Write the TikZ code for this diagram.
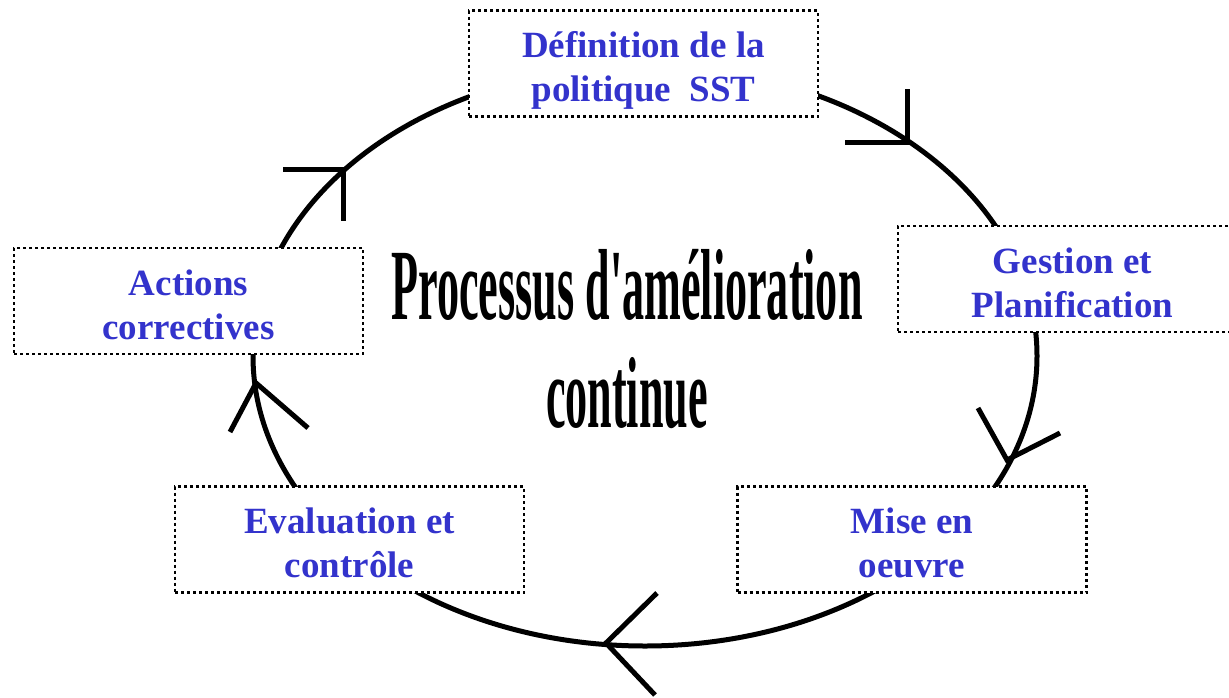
\documentclass[tikz,border=0pt]{standalone}
\usepackage{fontspec}
\setmainfont{Liberation Serif}
\usepackage{graphicx}
\definecolor{lblue}{RGB}{51,51,204}
\begin{document}
\begin{tikzpicture}[x=1pt,y=-1pt,
  stepbox/.style={draw=black, fill=white, line width=2.7pt, dash pattern=on 3pt off 3pt,
    minimum width=349pt, minimum height=106pt, inner sep=0pt,
    text height=38pt, text depth=50pt,
    font=\fontsize{37}{44}\bfseries\selectfont, text=lblue},
  cyclepath/.style={line width=5pt},
  tiparms/.style={line width=5pt, line join=miter}]
\useasboundingbox (0,0) rectangle (1229,697);
\clip (0,0) rectangle (1229,697);
\fill[white] (0,0) rectangle (1229,697);
% cycle
\draw[cyclepath] (645,356) ellipse [x radius=392pt, y radius=290pt];
% boxes
\node[stepbox] (b1) at (643.5,63.5) {\begin{tabular}[t]{@{}c@{}}Définition de la\\politique~ SST\end{tabular}};
\node[stepbox] (b2) at (1072.5,279) {\begin{tabular}[t]{@{}c@{}}Gestion et\\Planification\end{tabular}};
\node[stepbox] (b3) at (912,539.5) {\begin{tabular}[t]{@{}c@{}}Mise en\\oeuvre\end{tabular}};
\node[stepbox] (b4) at (349.5,539.5) {\begin{tabular}[t]{@{}c@{}}Evaluation et\\contrôle\end{tabular}};
\node[stepbox] (b5) at (188.5,301) {\begin{tabular}[t]{@{}c@{}}Actions\\correctives\end{tabular}};
% title
\node[anchor=base, inner sep=0pt] (title) at (627,319)
  {\fontsize{101}{108}\bfseries\selectfont\scalebox{0.437}[1]{\begin{tabular}[t]{@{}c@{}}Processus d\textquotesingle amélioration\\continue\end{tabular}}};
% arrow heads
\coordinate (t1) at (907,142); \coordinate (t1a) at (845,142); \coordinate (t1b) at (907,89);
\coordinate (t2) at (1007,460); \coordinate (t2a) at (978,408); \coordinate (t2b) at (1060,433);
\coordinate (t3) at (606,643); \coordinate (t3a) at (657,593); \coordinate (t3b) at (655,695);
\coordinate (t4) at (256,383); \coordinate (t4a) at (230,432); \coordinate (t4b) at (308,428);
\coordinate (t5) at (343,169); \coordinate (t5a) at (283,169); \coordinate (t5b) at (343,221);
\draw[tiparms] (t1a) -- (t1) -- (t1b);
\draw[tiparms] (t2a) -- (t2) -- (t2b);
\draw[tiparms] (t3a) -- (t3) -- (t3b);
\draw[tiparms] (t4a) -- (t4) -- (t4b);
\draw[tiparms] (t5a) -- (t5) -- (t5b);
\end{tikzpicture}
\end{document}
